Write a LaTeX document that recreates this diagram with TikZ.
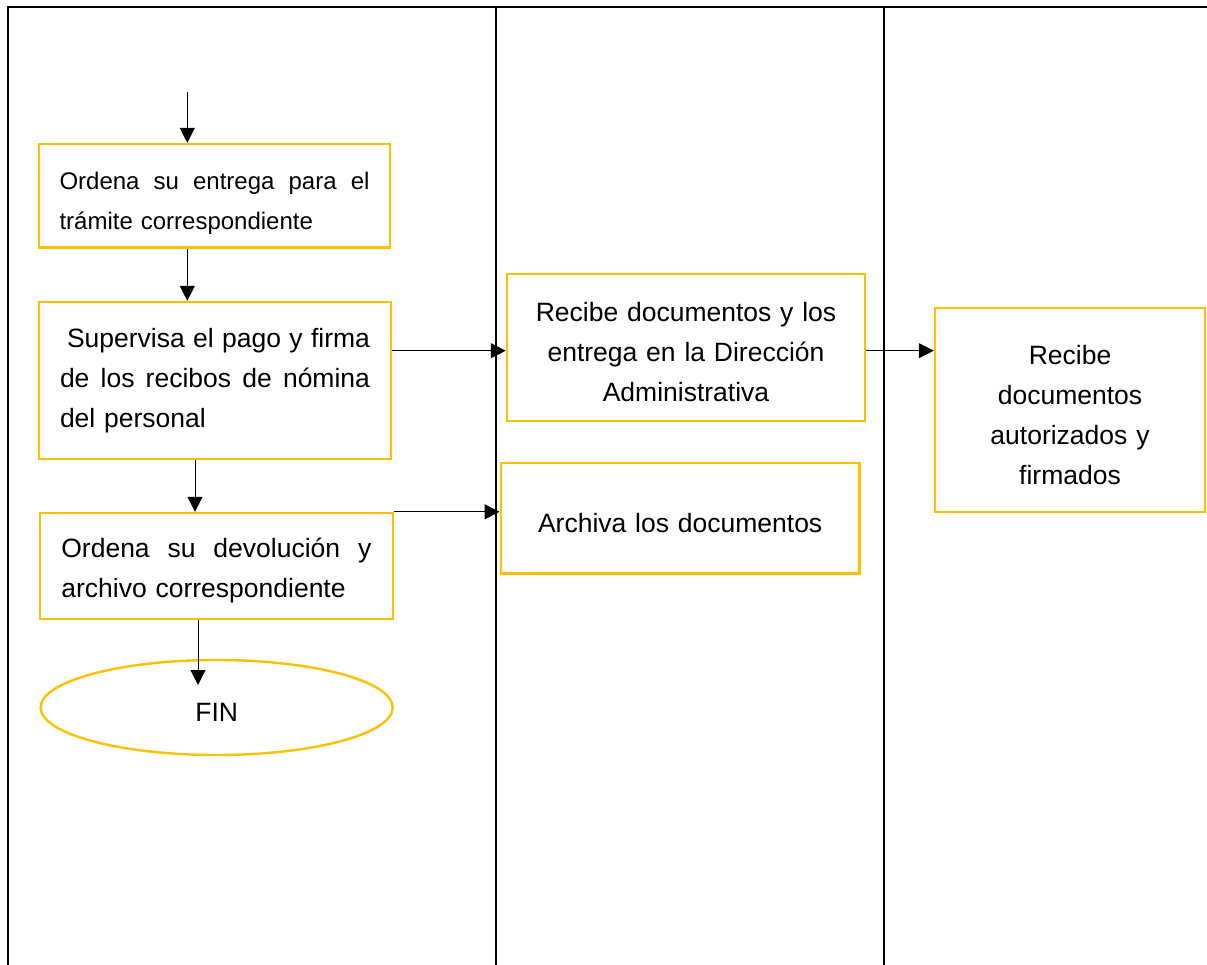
\documentclass[tikz,border=0pt]{standalone}
\usepackage{fontspec}
\setmainfont{Liberation Sans}
\usetikzlibrary{arrows.meta,shapes.geometric}
\newcommand\mytop[1]{\rule{0pt}{#1pt}}
\newcommand\mybot{\rule[-6pt]{0pt}{6pt}}
\newcommand\jline[1]{\leavevmode\hbox to 310pt{#1}}
\definecolor{amber}{HTML}{FFC000}
\begin{document}
\begin{tikzpicture}[x=1pt,y=-1pt,
  box/.style={draw=amber,line width=2.4pt,inner sep=0pt,rectangle},
  txt/.style={font=\fontsize{26.5}{40}\selectfont},
  arr/.style={line width=1pt,-{Triangle[length=15pt,width=15pt]}},
  lane/.style={line width=2pt}]
\useasboundingbox (0,0) rectangle (1207,965);
\fill[white] (0,0) rectangle (1207,965);
% lanes
\draw[line width=2.2pt] (1207,7) -- (8,7) -- (8,965);
\draw[lane] (495.6,7) -- (495.6,965);
\draw[lane] (884.4,7) -- (884.4,965);
% boxes
\node[box, minimum width=351pt, minimum height=103.7pt, text width=310pt, align=left,
      font=\fontsize{24}{40}\selectfont] (b1) at (214.5,195.85)
  {\jline{\mytop{34.3}Ordena\hfill su\hfill entrega\hfill para\hfill el}\\trámite correspondiente\mybot};
\node[box, txt, minimum width=352pt, minimum height=157pt, text width=310pt, align=left] (b2) at (215,380.5)
  {\jline{\mytop{19.4}\hspace*{7pt}Supervisa\hfill el\hfill pago\hfill y\hfill firma}\\\jline{de\hfill los\hfill recibos\hfill de\hfill nómina}\\del personal\mybot};
\node[box, txt, minimum width=352.7pt, minimum height=106pt, text width=310pt, align=left] (b3) at (216.35,566)
  {\jline{\mytop{28.7}Ordena\hfill su\hfill devolución\hfill y}\\archivo correspondiente\mybot};
\node[box, txt, minimum width=358pt, minimum height=146.7pt, text width=340pt, align=center] (b4) at (686,347.35)
  {\mytop{34.6}Recibe documentos y los\\entrega en la Dirección\\Administrativa\mybot};
\node[box, txt, minimum width=358.9pt, minimum height=110.6pt, text width=340pt, align=center] (b5) at (680.15,518)
  {\mytop{35.4}Archiva los documentos\mybot};
\node[box, txt, minimum width=270pt, minimum height=203.4pt, text width=250pt, align=center] (b6) at (1070,410)
  {\mytop{34.3}Recibe\\documentos\\autorizados y\\firmados\mybot};
\node[ellipse, draw=amber, line width=2.4pt, inner sep=0pt, minimum width=352pt, minimum height=95pt, txt] (fin) at (216.7,707.5)
  {\mytop{34.4}FIN\mybot};
% connectors
\coordinate (s1) at (187.3,92);
\coordinate (xa) at (187.3,0);
\coordinate (xb) at (195,0);
\coordinate (xc) at (198,0);
\coordinate (e4) at (198,685);
\coordinate (ya) at (0,350.7);
\draw[arr] (s1) -- (s1 |- b1.north);
\draw[arr] (b1.south -| xa) -- (b2.north -| xa);
\draw[arr] (b2.south -| xb) -- (b3.north -| xb);
\draw[arr] (b3.south -| xc) -- (e4);
\draw[arr] (b2.east |- ya) -- (b4.west |- ya);
\draw[arr] (b4.east |- ya) -- (b6.west |- ya);
\draw[arr] (b3.north east) -- (b5.west |- b3.north east);
\end{tikzpicture}
\end{document}
